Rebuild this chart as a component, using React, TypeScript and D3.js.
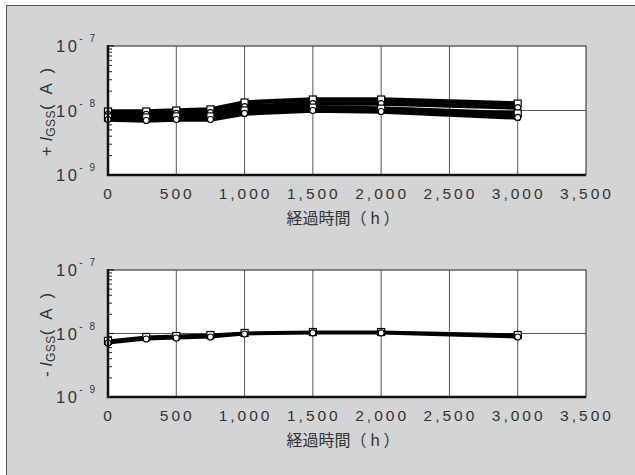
import React from "react";
import * as d3 from "d3";

const hours = [0, 280, 500, 750, 1000, 1500, 2000, 3000];
const xTicks = [0, 500, 1000, 1500, 2000, 2500, 3000, 3500];
const yTicks = [1e-9, 1e-8, 1e-7];
const yTickExp = ["9", "8", "7"];

// +IGSS series (A)
const plusS1 = [0.965e-8, 0.965e-8, 1.0e-8, 1.04e-8, 1.33e-8, 1.48e-8, 1.48e-8, 1.28e-8];
const plusS2 = [0.87e-8, 0.87e-8, 0.9e-8, 0.93e-8, 1.15e-8, 1.28e-8, 1.28e-8, 1.11e-8];
const plusS3 = [0.78e-8, 0.78e-8, 0.81e-8, 0.81e-8, 1.0e-8, 1.11e-8, 1.07e-8, 0.9e-8];
const plusS4 = [0.725e-8, 0.7e-8, 0.725e-8, 0.725e-8, 0.9e-8, 1.0e-8, 0.965e-8, 0.78e-8];

// -IGSS series (A)
const minusS1 = [0.762e-8, 0.881e-8, 0.913e-8, 0.947e-8, 1.02e-8, 1.055e-8, 1.055e-8, 0.947e-8];
const minusS2 = [0.709e-8, 0.819e-8, 0.849e-8, 0.881e-8, 0.982e-8, 1.02e-8, 1.02e-8, 0.881e-8];

const plusSeries = [plusS1, plusS2, plusS3, plusS4];
const minusSeries = [minusS1, minusS2];

const FONT = "'Liberation Sans', Arial, sans-serif";
const CJK = "'Noto Sans CJK JP', 'Liberation Sans', sans-serif";
const TXT = "#333";

const X0 = 108;
const X1 = 586;

function fmt(v: number) {
  return d3.format(",")(v);
}

function Panel({ top, bottom, series, sign, sw }: { top: number; bottom: number; series: number[][]; sign: string; sw: number }) {
  const x = d3.scaleLinear().domain([0, 3500]).range([X0, X1]);
  const y = d3.scaleLog().domain([1e-9, 1e-7]).range([bottom, top]);
  const line = d3
    .line<number>()
    .x((_, i) => x(hours[i]))
    .y((d) => y(d));
  const minor: number[] = [];
  for (const dec of [1e-9, 1e-8]) {
    for (let k = 2; k <= 9; k++) minor.push(dec * k);
  }
  const midY = (top + bottom) / 2;
  return (
    <g>
      <rect x={X0} y={top} width={X1 - X0} height={bottom - top} fill="#fff" stroke="#222" strokeWidth={1} />
      {xTicks.slice(1, -1).map((t) => (
        <line key={t} x1={x(t)} x2={x(t)} y1={top} y2={bottom} stroke="#555" strokeWidth={1} />
      ))}
      <line x1={X0} x2={X1} y1={y(1e-8)} y2={y(1e-8)} stroke="#555" strokeWidth={1} />
      {minor.map((m) => (
        <line key={m} x1={X0} x2={X0 + 4} y1={y(m)} y2={y(m)} stroke="#222" strokeWidth={1} />
      ))}
      {yTicks.map((t) => (
        <line key={t} x1={X0} x2={X0 + 6} y1={y(t)} y2={y(t)} stroke="#222" strokeWidth={1.2} />
      ))}
      {series.map((s, i) => (
        <path key={i} d={line(s) || ""} fill="none" stroke="#000" strokeWidth={sw} />
      ))}
      {series.map((s, i) =>
        s.map((v, j) =>
          i % 2 === 0 ? (
            <rect key={`${i}-${j}`} x={x(hours[j]) - 3.5} y={y(v) - 3.5} width={7} height={7} fill="#fff" stroke="#000" strokeWidth={1.2} />
          ) : (
            <circle key={`${i}-${j}`} cx={x(hours[j])} cy={y(v)} r={3} fill="#fff" stroke="#000" strokeWidth={1.2} />
          )
        )
      )}
      <line x1={X0} x2={X0} y1={top - 1} y2={bottom + 1} stroke="#111" strokeWidth={2.5} />
      <line x1={X0 - 1} x2={X1} y1={bottom} y2={bottom} stroke="#111" strokeWidth={2.5} />
      {xTicks.map((t) => (
        <text key={t} x={x(t) + 1} y={bottom + 24} textAnchor="middle" fontFamily={FONT} fontSize={15.5} letterSpacing={3} fill={TXT}>
          {fmt(t)}
        </text>
      ))}
      {yTicks.map((t, i) => (
        <text key={t} x={56} y={y(t) + 6} fontFamily={FONT} fontSize={16.5} letterSpacing={2.5} fill={TXT}>
          10
          <tspan fontSize={10} dy={-10} letterSpacing={2}>
            {"- " + yTickExp[i]}
          </tspan>
        </text>
      ))}
      <text x={343} y={bottom + 49} textAnchor="middle" fontFamily={CJK} fontSize={16} fill={TXT}>
        経過時間（ h ）
      </text>
      <text transform={`translate(52,${midY}) rotate(-90)`} textAnchor="middle" fontFamily={FONT} fontSize={17} fill={TXT}>
        {sign + " "}
        <tspan fontStyle="italic">I</tspan>
        <tspan fontSize={12} dy={3} letterSpacing={0.5}>GSS</tspan>
        <tspan dy={-3} letterSpacing={3}>( A )</tspan>
      </text>
    </g>
  );
}

export default function App() {
  return (
    <svg width={635} height={475} style={{ position: "absolute", left: 0, top: 0 }}>
      <rect x={0} y={0} width={635} height={475} fill="#fff" />
      <rect x={6.5} y={5.5} width={640} height={480} fill="#d3d4d6" stroke="#555" strokeWidth={1} />
      <Panel top={46} bottom={175} series={plusSeries} sign="+" sw={4.5} />
      <Panel top={270} bottom={397} series={minusSeries} sign="-" sw={3} />
    </svg>
  );
}
